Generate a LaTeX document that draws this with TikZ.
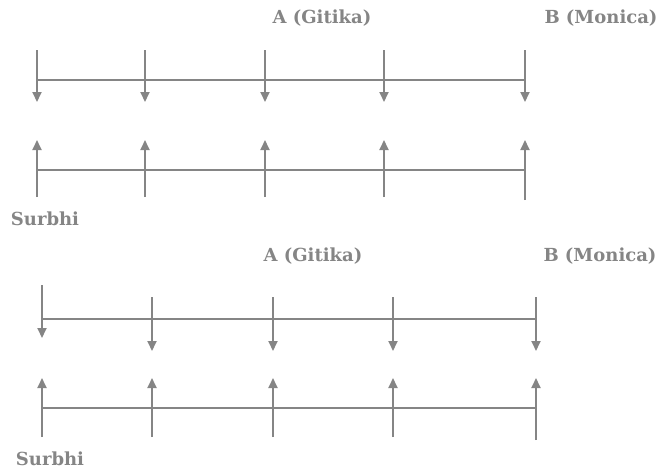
\documentclass[tikz,border=0pt]{standalone}
\usepackage{fontspec}
\setmainfont{DejaVu Serif}
\usetikzlibrary{arrows.meta}
\definecolor{ln}{HTML}{858585}
\tikzset{
  axis/.style={draw=ln, line width=1.8pt},
  arr/.style={draw=ln, line width=1.8pt, -{Triangle[length=10pt,width=9pt]}},
  lbl/.style={text=ln, font=\bfseries\fontsize{18}{21}\selectfont, inner sep=0pt}
}
\begin{document}
\begin{tikzpicture}[x=1pt,y=-1pt]
\useasboundingbox (0,0) rectangle (662,472);
% ---------- top diagram ----------
\node[lbl] (ga1) at (322,18) {A (Gitika)};
\node[lbl] (mb1) at (601,18) {B (Monica)};
\node[lbl] (su1) at (45,219) {Surbhi};
\foreach \i/\x/\b in {1/37/197,2/145/197,3/265/197,4/384/197,5/525/200}{
  \coordinate (dt\i) at (\x,50);
  \coordinate (dm\i) at (\x,80);
  \coordinate (db\i) at (\x,102);
  \coordinate (ut\i) at (\x,140);
  \coordinate (um\i) at (\x,170);
  \coordinate (ub\i) at (\x,\b);
  \draw[arr] (dt\i) -- (db\i);
  \draw[arr] (ub\i) -- (ut\i);
}
\draw[axis] (dm1) -- (dm5);
\draw[axis] (um1) -- (um5);
% ---------- bottom diagram ----------
\node[lbl] (ga2) at (313,256) {A (Gitika)};
\node[lbl] (mb2) at (600,256) {B (Monica)};
\node[lbl] (su2) at (50,459) {Surbhi};
\coordinate (Dt1) at (42,285);
\coordinate (Dm1) at (42,319);
\coordinate (Db1) at (42,338);
\draw[arr] (Dt1) -- (Db1);
\foreach \i/\x in {2/152,3/273,4/393,5/536}{
  \coordinate (Dt\i) at (\x,297);
  \coordinate (Dm\i) at (\x,319);
  \coordinate (Db\i) at (\x,351);
  \draw[arr] (Dt\i) -- (Db\i);
}
\foreach \i/\x/\b in {1/42/437,2/152/437,3/273/437,4/393/437,5/536/440}{
  \coordinate (Ut\i) at (\x,378);
  \coordinate (Um\i) at (\x,408);
  \coordinate (Ub\i) at (\x,\b);
  \draw[arr] (Ub\i) -- (Ut\i);
}
\draw[axis] (Dm1) -- (Dm5);
\draw[axis] (Um1) -- (Um5);
\end{tikzpicture}
\end{document}
